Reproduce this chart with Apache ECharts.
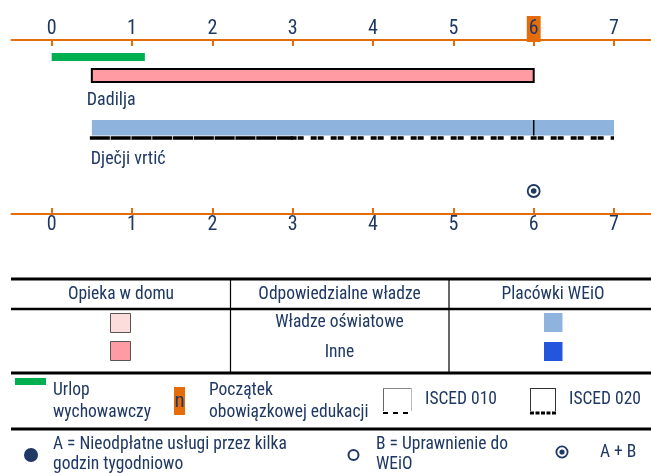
<!DOCTYPE html>
<html><head><meta charset="utf-8">
<script src="https://cdn.jsdelivr.net/npm/echarts@6/dist/echarts.min.js"></script>
<style>html,body{margin:0;padding:0;background:#fff}#c{width:651px;height:473px}</style>
</head><body><div id="c"></div>
<script>
// ---------- data ----------
const tickValues = [0, 1, 2, 3, 4, 5, 6, 7];
const compulsoryAge = 6;
const parentalLeave = [0, 1.16];
const settingNames = ['Dadilja', 'Dječji vrtić'];
const settingStart = [0.5, 0.5];
const settingEnd = [6, 7];
const settingKind = ['homeOther', 'ececEducation'];
const isced010Range = [0.5, 3];
const isced020Range = [3, 7];
const settingDividers = [6];
const entitlementAges = [6];
const entitlementTypes = ['A+B'];

// ---------- style / layout ----------
const FONT = '"Liberation Sans Narrow", "Arial Narrow", "Roboto Condensed", "Liberation Sans", sans-serif';
const NAVY = '#1F3864';
const ORANGE = '#E46C0A';
const GREEN = '#00B050';
const COLORS = { homeEducation: '#FDDCDC', homeOther: '#FF9BA3', ececEducation: '#8EB4DE', ececOther: '#2356DC' };
const ROW = { leave: 17, setting: [35.5, 87.75], label: [60, 119], isced: 98, point: 151 };
const LABEL_DX = [-5, -1];

const chart = echarts.init(document.getElementById('c'), null, { renderer: 'canvas' });

function axisLabelCfg(margin, highlight) {
  return {
    customValues: tickValues,
    margin: margin,
    formatter: v => (highlight && v === compulsoryAge) ? '{hl|' + v + '}' : '{n|' + v + '}',
    rich: {
      n: { fontFamily: FONT, fontSize: 20, color: NAVY, lineHeight: 20, padding: [3, 2, 3, 2] },
      hl: { fontFamily: FONT, fontSize: 20, color: NAVY, lineHeight: 20, padding: [3, 2, 3, 2], backgroundColor: ORANGE }
    }
  };
}
const axisBase = {
  type: 'value', min: -0.5, max: 7.46,
  axisLine: { show: true, lineStyle: { color: ORANGE, width: 2 } },
  axisTick: { show: true, inside: true, length: 6, customValues: tickValues, lineStyle: { color: ORANGE, width: 2 } },
  splitLine: { show: false }
};

const settingData = settingNames.map((n, i) => [settingStart[i], settingEnd[i], i]);

const option = {
  animation: false,
  grid: { left: 11.5, right: 0, top: 40, bottom: 259 },
  xAxis: [
    Object.assign({}, axisBase, { position: 'top', axisLabel: axisLabelCfg(1, true) }),
    Object.assign({}, axisBase, { position: 'bottom', axisLabel: axisLabelCfg(1, false) })
  ],
  yAxis: { type: 'value', min: 0, max: 174, inverse: true, show: false },
  series: [
    {
      type: 'custom', name: 'Urlop wychowawczy', data: [parentalLeave],
      renderItem: (p, api) => {
        const a = api.coord([api.value(0), ROW.leave]);
        const b = api.coord([api.value(1), ROW.leave]);
        return { type: 'rect', shape: { x: a[0], y: a[1] - 4, width: b[0] - a[0], height: 8 }, style: { fill: GREEN } };
      }
    },
    {
      type: 'custom', name: 'settings', data: settingData,
      renderItem: (p, api) => {
        const i = api.value(2);
        const y = ROW.setting[i];
        const a = api.coord([api.value(0), y]);
        const b = api.coord([api.value(1), y]);
        const kind = settingKind[i];
        const children = [];
        if (kind.startsWith('home')) {
          children.push({ type: 'rect', shape: { x: a[0], y: a[1] - 6.5, width: b[0] - a[0], height: 13 },
            style: { fill: COLORS[kind], stroke: '#000', lineWidth: 2 } });
        } else {
          children.push({ type: 'rect', shape: { x: a[0], y: a[1] - 7.75, width: b[0] - a[0], height: 15.5 },
            style: { fill: COLORS[kind] } });
        }
        const l = api.coord([api.value(0), ROW.label[i]]);
        children.push({ type: 'text', x: l[0] + LABEL_DX[i], y: l[1],
          style: { text: settingNames[i], fontFamily: FONT, fontSize: 18, fill: NAVY, verticalAlign: 'middle', align: 'left' } });
        return { type: 'group', children: children };
      }
    },
    {
      type: 'custom', name: 'dividers', data: settingDividers.map(v => [v]),
      renderItem: (p, api) => {
        const a = api.coord([api.value(0), ROW.setting[1]]);
        return { type: 'line', shape: { x1: a[0], y1: a[1] - 7.75, x2: a[0], y2: a[1] + 7.75 }, style: { stroke: '#000', lineWidth: 1.5 } };
      }
    },
    {
      type: 'custom', name: 'ISCED', data: [[isced010Range[0], isced010Range[1], 0], [isced020Range[0], isced020Range[1], 1]],
      renderItem: (p, api) => {
        const a = api.coord([api.value(0), ROW.isced]);
        const b = api.coord([api.value(1), ROW.isced]);
        const dash = api.value(2) === 0 ? [20, 0.8] : [6, 1, 6, 7];
        return { type: 'line', shape: { x1: a[0] - 2, y1: a[1], x2: b[0], y2: a[1] },
          style: { stroke: '#000', lineWidth: 3.5, lineDash: dash } };
      }
    },
    {
      type: 'custom', name: 'entitlement', data: entitlementAges.map((v, i) => [v, i]),
      renderItem: (p, api) => {
        const a = api.coord([api.value(0), ROW.point]);
        const t = entitlementTypes[api.value(1)];
        const ch = [];
        if (t === 'A') ch.push({ type: 'circle', shape: { cx: a[0], cy: a[1], r: 6.5 }, style: { fill: NAVY } });
        else {
          ch.push({ type: 'circle', shape: { cx: a[0], cy: a[1], r: 6 }, style: { fill: 'none', stroke: NAVY, lineWidth: 1.8 } });
          if (t === 'A+B') ch.push({ type: 'circle', shape: { cx: a[0], cy: a[1], r: 2.8 }, style: { fill: NAVY } });
        }
        return { type: 'group', children: ch };
      }
    }
  ],
  graphic: (function () {
    const T = (text, x, y, opt) => Object.assign({ type: 'text', x: x, y: y,
      style: Object.assign({ text: text, fontFamily: FONT, fontSize: 17.5, fill: NAVY, align: 'left', verticalAlign: 'middle' }, opt || {}) });
    const L = (x1, y1, x2, y2, st) => ({ type: 'line', shape: { x1, y1, x2, y2 }, style: Object.assign({ stroke: '#000', lineWidth: 1 }, st || {}) });
    const R = (x, y, w, h, st) => ({ type: 'rect', shape: { x, y, width: w, height: h }, style: st });
    return [
      L(11, 279, 651, 279, { lineWidth: 3 }),
      L(11, 309, 651, 309, { lineWidth: 2.5 }),
      L(230.5, 279, 230.5, 373, { lineWidth: 1.2 }),
      L(449, 279, 449, 373, { lineWidth: 1.2 }),
      L(11, 373, 651, 373, { lineWidth: 3 }),
      L(11, 429, 651, 429, { lineWidth: 3 }),
      T('Opieka w domu', 121, 295, { align: 'center' }),
      T('Odpowiedzialne władze', 339.5, 295, { align: 'center' }),
      T('Placówki WEiO', 553, 295, { align: 'center' }),
      T('Władze oświatowe', 339.5, 323, { align: 'center' }),
      T('Inne', 339.5, 352.5, { align: 'center' }),
      R(110.5, 313.5, 20, 19, { fill: COLORS.homeEducation, stroke: '#555', lineWidth: 1 }),
      R(110.5, 341.5, 20, 19, { fill: COLORS.homeOther, stroke: '#555', lineWidth: 1 }),
      R(544, 313, 18.5, 19, { fill: COLORS.ececEducation }),
      R(544, 342, 18.5, 19, { fill: COLORS.ececOther }),
      R(15, 378, 31, 7, { fill: GREEN }),
      T('Urlop\nwychowawczy', 53, 380, { verticalAlign: 'top', lineHeight: 22 }),
      R(174, 387, 11, 28, { fill: ORANGE }),
      T('n', 179.5, 402, { align: 'center', fontSize: 21 }),
      T('Początek\nobowiązkowej edukacji', 209, 380, { verticalAlign: 'top', lineHeight: 22 }),
      L(383.5, 388, 383.5, 411, { stroke: '#666' }),
      L(383, 388.5, 412, 388.5, { stroke: '#888' }),
      L(411.5, 388, 411.5, 411, { stroke: '#bbb' }),
      L(383, 413, 412, 413, { lineWidth: 2, lineDash: [5, 5] }),
      T('ISCED 010', 425, 400),
      L(530.5, 388, 530.5, 411, { stroke: '#333' }),
      L(530, 388.5, 556, 388.5, { stroke: '#333' }),
      L(555.5, 388, 555.5, 411, { stroke: '#333' }),
      L(530, 413, 556, 413, { lineWidth: 3, lineDash: [4, 1.5] }),
      T('ISCED 020', 569, 400),
      { type: 'circle', shape: { cx: 31, cy: 455, r: 7 }, style: { fill: NAVY } },
      T('A = Nieodpłatne usługi przez kilka\ngodzin tygodniowo', 53, 435, { verticalAlign: 'top', lineHeight: 20 }),
      { type: 'circle', shape: { cx: 353.5, cy: 455, r: 5 }, style: { fill: 'none', stroke: NAVY, lineWidth: 2 } },
      T('B = Uprawnienie do\nWEiO', 376, 435, { verticalAlign: 'top', lineHeight: 20 }),
      { type: 'circle', shape: { cx: 562, cy: 452, r: 5.6 }, style: { fill: 'none', stroke: NAVY, lineWidth: 1.8 } },
      { type: 'circle', shape: { cx: 562, cy: 452, r: 2.6 }, style: { fill: NAVY } },
      T('A + B', 600, 453)
    ];
  })()
};
chart.setOption(option);
</script>
</body></html>
